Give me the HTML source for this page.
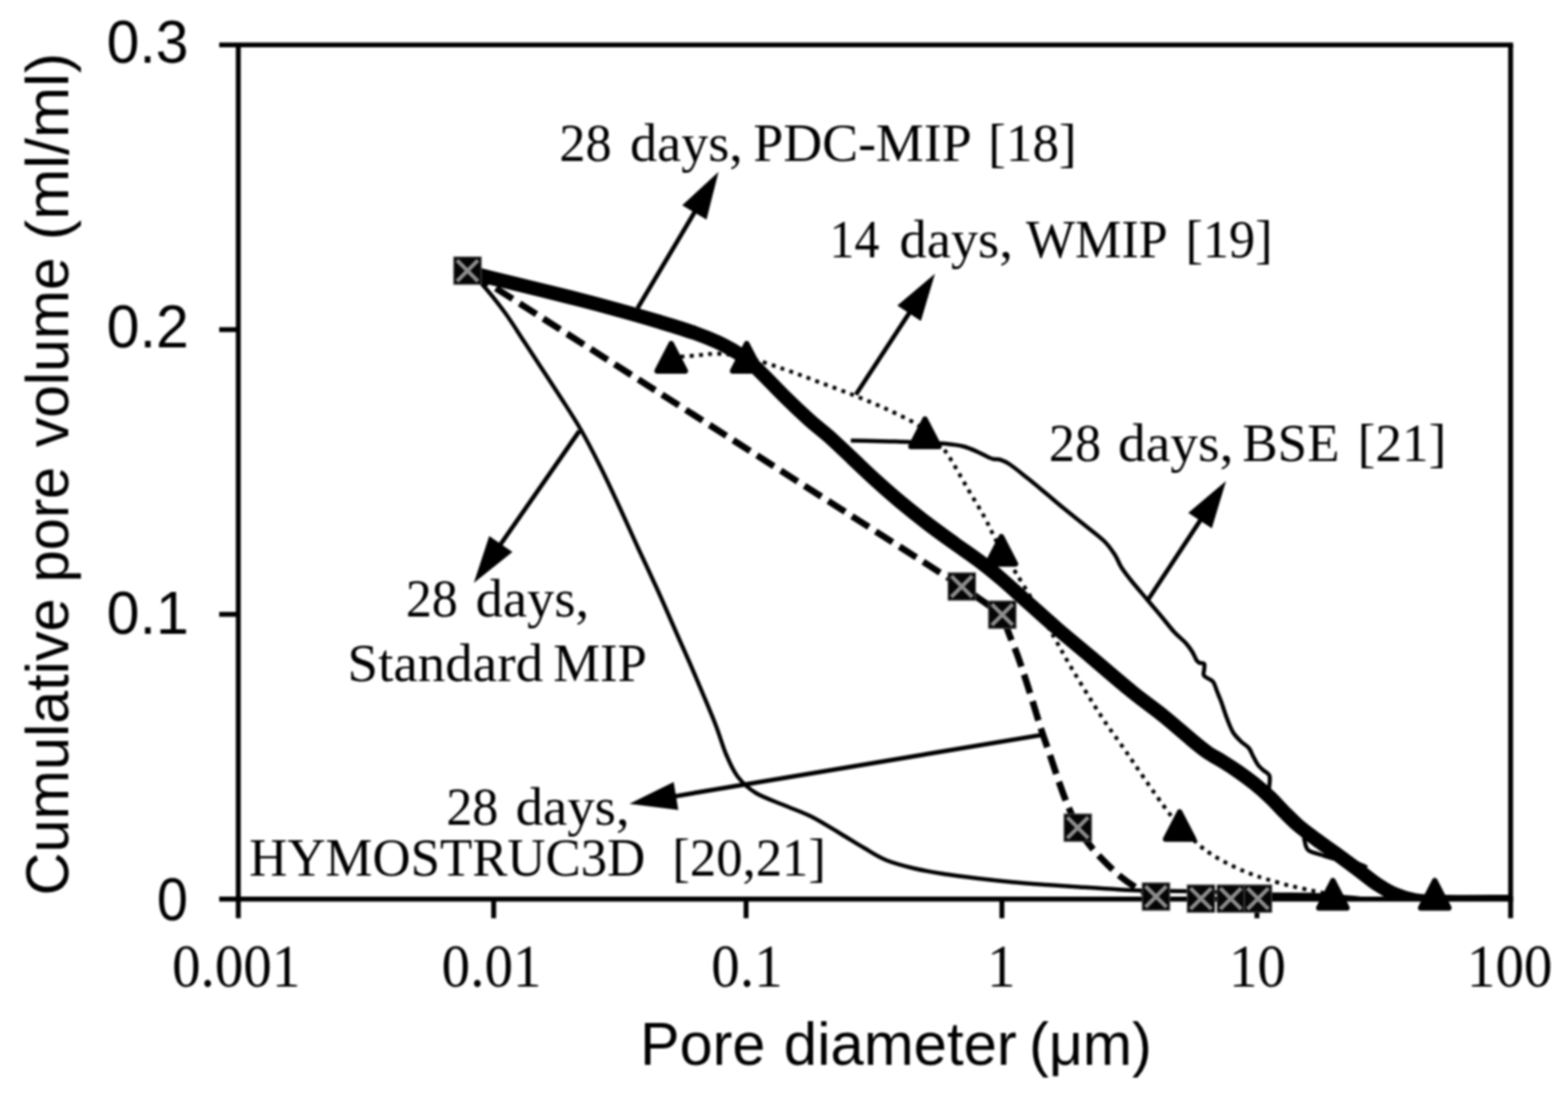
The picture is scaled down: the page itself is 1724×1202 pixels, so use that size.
<!DOCTYPE html>
<html lang="en">
<head>
<meta charset="utf-8">
<title>Cumulative pore volume vs pore diameter</title>
<style>
html,body{margin:0;padding:0;background:#fff;}
body{width:1724px;height:1202px;overflow:hidden;}
svg{display:block;filter:blur(0.9px);}
</style>
</head>
<body>
<svg width="1724" height="1202" viewBox="0 0 1724 1202">
<rect width="1724" height="1202" fill="#fff"/>
<g stroke="#000" stroke-width="5.4" fill="none" stroke-linecap="butt">
<path d="M241.0 49.4 H1663.6"/>
<path d="M241.0 988.8 H1663.6"/>
<path d="M262.0 49.4 V1009.8"/>
<path d="M1660.9 49.4 V1009.8"/>
<path d="M241.0 675.6 H262.0"/>
<path d="M241.0 362.5 H262.0"/>
<path d="M542.8 988.8 V1009.8"/>
<path d="M820.3 988.8 V1009.8"/>
<path d="M1101.6 988.8 V1009.8"/>
<path d="M1382.0 988.8 V1009.8"/>
</g>
<defs><clipPath id="plotclip"><rect x="262.0" y="49.4" width="1398.9" height="939.4"/></clipPath></defs>
<g fill="none" stroke="#000" stroke-linejoin="round">
<path d="M514.0 298.0 C516.7 300.4 523.1 304.8 530.0 312.5 C536.9 320.2 547.6 333.5 555.3 344.0 C563.0 354.5 569.2 364.9 576.2 375.5 C583.2 386.1 590.1 396.8 597.1 407.5 C604.1 418.2 611.0 428.6 618.0 439.5 C625.0 450.4 631.9 460.8 638.9 473.0 C645.9 485.2 652.8 498.6 659.7 512.5 C666.7 526.4 673.6 541.5 680.6 556.5 C687.6 571.5 694.5 587.3 701.5 602.5 C708.5 617.7 715.4 632.1 722.4 647.5 C729.4 662.9 736.4 679.4 743.3 695.0 C750.1 710.6 756.4 724.3 763.5 741.0 C770.6 757.7 780.2 780.2 786.0 795.0 C791.8 809.8 794.3 820.2 798.5 830.0 C802.7 839.8 805.6 847.0 811.0 854.0 C816.4 861.0 822.5 866.8 831.0 872.0 C839.5 877.2 851.8 881.2 862.0 885.5 C872.2 889.8 881.6 892.8 892.0 898.0 C902.4 903.2 914.8 911.2 924.5 917.0 C934.2 922.8 941.7 927.7 950.0 932.5 C958.3 937.3 965.3 942.2 974.5 946.0 C983.7 949.8 994.6 952.5 1005.0 955.0 C1015.4 957.5 1025.3 959.2 1037.0 961.0 C1048.7 962.8 1062.5 964.5 1075.0 966.0 C1087.5 967.5 1099.5 968.8 1112.0 970.0 C1124.5 971.2 1137.5 972.1 1150.0 973.0 C1162.5 973.9 1175.3 974.7 1187.0 975.5 C1198.7 976.3 1208.3 977.0 1220.0 977.6 C1231.7 978.2 1243.7 979.0 1257.0 979.4 C1270.3 979.8 1286.2 979.7 1300.0 980.0 C1313.8 980.3 1325.0 980.6 1340.0 981.2 C1355.0 981.8 1373.3 982.9 1390.0 983.4 C1406.7 983.9 1427.5 983.7 1440.0 984.0 C1452.5 984.3 1456.7 984.7 1465.0 985.3 C1473.3 985.9 1481.7 987.0 1490.0 987.5 C1498.3 988.0 1486.7 988.4 1515.0 988.6 C1543.3 988.8 1635.8 988.7 1660.0 988.8" stroke-width="4.5" clip-path="url(#plotclip)"/>
<path d="M935.5 484.5 C939.6 484.6 951.8 484.8 960.0 485.0 C968.2 485.2 975.5 485.2 985.0 485.5 C994.5 485.8 1007.8 486.6 1017.0 487.0 C1026.2 487.4 1032.9 487.3 1040.0 488.0 C1047.1 488.7 1053.7 489.5 1059.5 491.0 C1065.3 492.5 1070.4 495.0 1075.0 497.0 C1079.6 499.0 1084.0 501.7 1087.0 503.0 C1090.0 504.3 1090.9 504.6 1093.0 505.0 C1095.1 505.4 1096.7 504.6 1099.5 505.5 C1102.3 506.4 1104.9 507.1 1110.0 510.5 C1115.1 513.9 1123.3 520.7 1130.0 526.0 C1136.7 531.3 1143.5 537.1 1150.0 542.5 C1156.5 547.9 1162.0 552.8 1169.0 558.5 C1176.0 564.2 1184.5 570.9 1192.0 577.0 C1199.5 583.1 1208.3 589.4 1214.0 595.0 C1219.7 600.6 1222.8 605.7 1226.0 610.5 C1229.2 615.3 1229.8 619.1 1233.0 624.0 C1236.2 628.9 1240.3 634.2 1245.0 640.0 C1249.7 645.8 1255.7 652.7 1261.0 659.0 C1266.3 665.3 1272.0 672.0 1277.0 678.0 C1282.0 684.0 1286.5 690.1 1291.0 695.0 C1295.5 699.9 1300.7 703.8 1304.0 707.5 C1307.3 711.2 1309.1 713.9 1311.0 717.0 C1312.9 720.1 1314.2 724.0 1315.5 726.0 C1316.8 728.0 1317.6 728.3 1319.0 729.0 C1320.4 729.7 1323.2 728.8 1324.0 730.0 C1324.8 731.2 1324.1 733.9 1324.0 736.0 C1323.9 738.1 1322.8 740.8 1323.5 742.5 C1324.2 744.2 1326.2 744.8 1328.0 746.0 C1329.8 747.2 1332.3 747.7 1334.0 750.0 C1335.7 752.3 1336.5 756.2 1338.0 760.0 C1339.5 763.8 1341.2 767.5 1343.0 772.5 C1344.8 777.5 1346.9 784.6 1349.0 790.0 C1351.1 795.4 1353.0 800.8 1355.5 805.0 C1358.0 809.2 1361.1 812.1 1364.0 815.0 C1366.9 817.9 1370.7 819.7 1373.0 822.5 C1375.3 825.3 1376.3 828.9 1378.0 832.0 C1379.7 835.1 1381.2 838.5 1383.0 841.0 C1384.8 843.5 1386.9 845.1 1389.0 847.0 C1391.1 848.9 1394.3 850.3 1395.5 852.5 C1396.7 854.7 1396.0 857.2 1396.0 860.0 C1396.0 862.8 1394.8 866.0 1395.5 869.0 C1396.2 872.0 1393.9 870.8 1400.0 878.0 C1406.1 885.2 1426.3 904.6 1432.0 912.0 C1437.7 919.4 1433.3 919.3 1434.0 922.5 C1434.7 925.7 1435.0 928.8 1436.0 931.0 C1437.0 933.2 1436.8 934.3 1440.0 936.0 C1443.2 937.7 1450.8 939.6 1455.5 941.0 C1460.2 942.4 1463.6 943.5 1468.0 944.5 C1472.4 945.5 1478.0 946.2 1482.0 947.0 C1486.0 947.8 1488.5 948.3 1492.0 949.5 C1495.5 950.7 1501.2 953.2 1503.0 954.0" stroke-width="4.5"/>
<path d="M738.0 393.0 C742.5 392.7 756.3 391.7 765.0 391.0 C773.7 390.3 780.7 388.7 790.0 389.0 C799.3 389.3 809.0 390.2 821.0 393.0 C833.0 395.8 848.8 401.5 862.0 406.0 C875.2 410.5 887.1 415.2 900.0 420.0 C912.9 424.8 927.0 430.0 939.5 435.0 C952.0 440.0 963.8 444.8 975.0 450.0 C986.2 455.2 1000.0 461.7 1007.0 466.0 C1014.0 470.3 1011.8 471.2 1017.0 476.0 C1022.2 480.8 1030.7 484.8 1038.5 495.0 C1046.3 505.2 1056.8 525.3 1064.0 537.5 C1071.2 549.7 1077.2 559.2 1082.0 568.0 C1086.8 576.8 1089.8 583.8 1093.0 590.0 C1096.2 596.2 1097.0 598.3 1101.0 605.0 C1105.0 611.7 1111.0 620.3 1117.0 630.0 C1123.0 639.7 1130.1 651.3 1137.0 663.0 C1143.9 674.7 1152.0 688.7 1158.5 700.0 C1165.0 711.3 1169.9 720.6 1176.0 731.0 C1182.1 741.4 1188.5 752.0 1195.0 762.5 C1201.5 773.0 1208.0 783.6 1215.0 794.0 C1222.0 804.4 1229.6 814.3 1237.0 825.0 C1244.4 835.7 1251.7 846.8 1259.5 858.0 C1267.3 869.2 1277.8 884.3 1284.0 892.5 C1290.2 900.7 1291.3 900.9 1297.0 907.0 C1302.7 913.1 1311.5 923.2 1318.0 929.0 C1324.5 934.8 1329.8 938.1 1336.0 942.0 C1342.2 945.9 1349.0 949.3 1355.5 952.5 C1362.0 955.7 1368.8 958.6 1375.0 961.0 C1381.2 963.4 1385.8 964.8 1393.0 967.0 C1400.2 969.2 1409.7 971.9 1418.0 974.0 C1426.3 976.1 1435.7 977.9 1443.0 979.5 C1450.3 981.1 1458.8 982.8 1462.0 983.5" stroke-width="4.3" stroke-dasharray="4.3 5.9"/>
<path d="M514.0 297.0 L1057.5 645.0" stroke-width="7.2" stroke-dasharray="22 9" stroke-dashoffset="-6"/>
<path d="M1057.5 645 L1102 676" stroke-width="7.2"/>
<path d="M1102.0 676.0 C1103.3 679.6 1106.8 690.2 1109.6 697.5 C1112.3 704.8 1115.8 712.6 1118.5 720.0 C1121.2 727.4 1123.4 734.2 1126.0 742.0 C1128.6 749.8 1130.9 757.2 1134.0 767.0 C1137.1 776.8 1141.1 790.7 1144.4 801.0 C1147.7 811.3 1150.9 819.8 1154.0 829.0 C1157.1 838.2 1159.9 847.2 1163.0 856.0 C1166.1 864.8 1168.8 873.0 1172.5 882.0 C1176.2 891.0 1180.9 902.3 1185.0 910.0 C1189.1 917.7 1192.5 922.2 1197.0 928.0 C1201.5 933.8 1206.3 939.1 1212.0 945.0 C1217.7 950.9 1224.7 958.0 1231.4 963.5 C1238.1 969.0 1245.6 974.1 1252.0 978.0 C1258.4 981.9 1267.0 985.5 1270.0 987.0" stroke-width="7.2" stroke-dasharray="22 9" stroke-dashoffset="-8"/>
<path d="M516.0 299.5 C522.7 301.2 542.5 306.2 556.0 309.5 C569.5 312.8 583.2 316.1 597.0 319.5 C610.8 322.9 625.0 326.4 639.0 330.0 C653.0 333.6 667.2 337.4 681.0 341.2 C694.8 345.0 708.2 348.8 722.0 353.0 C735.8 357.2 752.8 362.3 764.0 366.2 C775.2 370.1 782.0 373.1 789.0 376.3 C796.0 379.5 800.7 382.2 806.0 385.3 C811.3 388.4 815.3 390.4 821.0 395.0 C826.7 399.6 833.2 406.2 840.0 413.0 C846.8 419.8 853.7 427.3 862.0 435.5 C870.3 443.7 881.7 454.5 890.0 462.0 C898.3 469.5 904.2 473.5 912.0 480.5 C919.8 487.5 928.7 496.2 937.0 504.0 C945.3 511.8 953.2 519.5 962.0 527.5 C970.8 535.5 980.3 543.9 990.0 552.0 C999.7 560.1 1010.0 568.3 1020.0 576.0 C1030.0 583.7 1040.0 590.8 1050.0 598.0 C1060.0 605.2 1071.3 612.9 1080.0 619.5 C1088.7 626.1 1093.7 630.3 1102.0 637.5 C1110.3 644.7 1120.0 653.6 1130.0 662.5 C1140.0 671.4 1150.3 680.9 1162.0 691.0 C1173.7 701.1 1186.2 711.3 1200.0 723.0 C1213.8 734.7 1231.7 750.2 1245.0 761.0 C1258.3 771.8 1269.2 779.2 1280.0 788.0 C1290.8 796.8 1302.2 807.0 1310.0 813.5 C1317.8 820.0 1321.3 823.0 1327.0 827.0 C1332.7 831.0 1338.6 833.9 1344.4 837.5 C1350.2 841.1 1356.0 844.8 1361.8 848.8 C1367.6 852.8 1373.4 857.1 1379.2 861.8 C1385.0 866.5 1391.3 872.0 1396.6 877.0 C1401.9 882.0 1405.9 886.9 1411.0 892.0 C1416.1 897.1 1421.0 902.3 1427.0 907.5 C1433.0 912.7 1440.2 917.9 1447.0 923.0 C1453.8 928.1 1460.0 932.2 1468.0 938.0 C1476.0 943.8 1487.2 952.2 1495.0 958.0 C1502.8 963.8 1508.3 968.7 1515.0 973.0 C1521.7 977.3 1528.3 981.2 1535.0 984.0 C1541.7 986.8 1547.5 988.7 1555.0 990.0 C1562.5 991.3 1562.5 991.5 1580.0 991.8 C1597.5 992.1 1646.7 991.8 1660.0 991.8" stroke-width="15.5" clip-path="url(#plotclip)"/>
</g>
<line x1="701.0" y1="339.0" x2="764.5" y2="232.0" stroke="#000" stroke-width="4.9"/><polygon points="790.0,189.0 776.8,241.6 750.1,225.8" fill="#000"/>
<line x1="941.0" y1="434.0" x2="1000.6" y2="342.8" stroke="#000" stroke-width="4.9"/><polygon points="1028.0,301.0 1012.5,353.0 986.6,336.0" fill="#000"/>
<line x1="1262.0" y1="660.0" x2="1320.6" y2="570.8" stroke="#000" stroke-width="4.9"/><polygon points="1348.0,529.0 1332.4,581.0 1306.5,564.0" fill="#000"/>
<line x1="637.0" y1="474.0" x2="549.5" y2="599.9" stroke="#000" stroke-width="4.9"/><polygon points="521.0,641.0 537.9,589.4 563.4,607.1" fill="#000"/>
<line x1="1144.5" y1="808.3" x2="741.3" y2="875.8" stroke="#000" stroke-width="4.9"/><polygon points="692.0,884.0 740.7,860.1 745.8,890.7" fill="#000"/>
<polygon points="738.0,378.0 753.5,408.0 722.5,408.0" fill="#000" stroke="#000" stroke-width="6" stroke-linejoin="round"/>
<polygon points="821.0,378.0 836.5,408.0 805.5,408.0" fill="#000" stroke="#000" stroke-width="6" stroke-linejoin="round"/>
<polygon points="1017.0,461.0 1032.5,491.0 1001.5,491.0" fill="#000" stroke="#000" stroke-width="6" stroke-linejoin="round"/>
<polygon points="1101.0,590.2 1116.5,620.2 1085.5,620.2" fill="#000" stroke="#000" stroke-width="6" stroke-linejoin="round"/>
<polygon points="1297.0,892.8 1312.5,922.8 1281.5,922.8" fill="#000" stroke="#000" stroke-width="6" stroke-linejoin="round"/>
<polygon points="1465.5,968.5 1481.0,998.5 1450.0,998.5" fill="#000" stroke="#000" stroke-width="6" stroke-linejoin="round"/>
<polygon points="1577.5,968.5 1593.0,998.5 1562.0,998.5" fill="#000" stroke="#000" stroke-width="6" stroke-linejoin="round"/>
<g transform="translate(514.0 297.7)"><rect x="-15.0" y="-15.0" width="30" height="30" fill="#050505" stroke="#484848" stroke-width="1.2"/><path d="M-11.5 -11.5 L11.5 11.5 M11.5 -11.5 L-11.5 11.5" stroke="#8c8c8c" stroke-width="4.3" fill="none"/></g>
<g transform="translate(1057.5 645.0)"><rect x="-15.0" y="-15.0" width="30" height="30" fill="#050505" stroke="#484848" stroke-width="1.2"/><path d="M-11.5 -11.5 L11.5 11.5 M11.5 -11.5 L-11.5 11.5" stroke="#8c8c8c" stroke-width="4.3" fill="none"/></g>
<g transform="translate(1102.0 676.0)"><rect x="-15.0" y="-15.0" width="30" height="30" fill="#050505" stroke="#484848" stroke-width="1.2"/><path d="M-11.5 -11.5 L11.5 11.5 M11.5 -11.5 L-11.5 11.5" stroke="#8c8c8c" stroke-width="4.3" fill="none"/></g>
<g transform="translate(1185.0 910.2)"><rect x="-15.0" y="-15.0" width="30" height="30" fill="#050505" stroke="#484848" stroke-width="1.2"/><path d="M-11.5 -11.5 L11.5 11.5 M11.5 -11.5 L-11.5 11.5" stroke="#8c8c8c" stroke-width="4.3" fill="none"/></g>
<g transform="translate(1271.0 986.0)"><rect x="-15.0" y="-15.0" width="30" height="30" fill="#050505" stroke="#484848" stroke-width="1.2"/><path d="M-11.5 -11.5 L11.5 11.5 M11.5 -11.5 L-11.5 11.5" stroke="#8c8c8c" stroke-width="4.3" fill="none"/></g>
<g transform="translate(1320.4 988.2)"><rect x="-15.0" y="-15.0" width="30" height="30" fill="#050505" stroke="#484848" stroke-width="1.2"/><path d="M-11.5 -11.5 L11.5 11.5 M11.5 -11.5 L-11.5 11.5" stroke="#8c8c8c" stroke-width="4.3" fill="none"/></g>
<g transform="translate(1353.2 988.2)"><rect x="-15.0" y="-15.0" width="30" height="30" fill="#050505" stroke="#484848" stroke-width="1.2"/><path d="M-11.5 -11.5 L11.5 11.5 M11.5 -11.5 L-11.5 11.5" stroke="#8c8c8c" stroke-width="4.3" fill="none"/></g>
<g transform="translate(1383.1 988.2)"><rect x="-15.0" y="-15.0" width="30" height="30" fill="#050505" stroke="#484848" stroke-width="1.2"/><path d="M-11.5 -11.5 L11.5 11.5 M11.5 -11.5 L-11.5 11.5" stroke="#8c8c8c" stroke-width="4.3" fill="none"/></g>
<text transform="translate(0 69.30) scale(1 1.0000)" font-family="'Liberation Sans', Arial, Helvetica, sans-serif" font-size="66" fill="#000"><tspan x="117.35" textLength="89.99" lengthAdjust="spacingAndGlyphs">0.3</tspan></text>
<text transform="translate(0 381.50) scale(1 1.0000)" font-family="'Liberation Sans', Arial, Helvetica, sans-serif" font-size="66" fill="#000"><tspan x="117.34" textLength="90.26" lengthAdjust="spacingAndGlyphs">0.2</tspan></text>
<text transform="translate(0 696.50) scale(1 1.0000)" font-family="'Liberation Sans', Arial, Helvetica, sans-serif" font-size="66" fill="#000"><tspan x="117.34" textLength="90.26" lengthAdjust="spacingAndGlyphs">0.1</tspan></text>
<text transform="translate(0 1011.80) scale(1 1.0000)" font-family="'Liberation Sans', Arial, Helvetica, sans-serif" font-size="66" fill="#000"><tspan x="172.58" textLength="34.12" lengthAdjust="spacingAndGlyphs">0</tspan></text>
<text transform="translate(0 1084.60) scale(1 1.0200)" font-family="'Liberation Serif', 'Times New Roman', Times, serif" font-size="66" fill="#000"><tspan x="189.22" textLength="141.07" lengthAdjust="spacingAndGlyphs">0.001</tspan></text>
<text transform="translate(0 1084.60) scale(1 1.0200)" font-family="'Liberation Serif', 'Times New Roman', Times, serif" font-size="66" fill="#000"><tspan x="485.62" textLength="109.72" lengthAdjust="spacingAndGlyphs">0.01</tspan></text>
<text transform="translate(0 1084.60) scale(1 1.0200)" font-family="'Liberation Serif', 'Times New Roman', Times, serif" font-size="66" fill="#000"><tspan x="782.12" textLength="78.38" lengthAdjust="spacingAndGlyphs">0.1</tspan></text>
<text transform="translate(0 1084.60) scale(1 1.0200)" font-family="'Liberation Serif', 'Times New Roman', Times, serif" font-size="66" fill="#000"><tspan x="1085.37" textLength="31.35" lengthAdjust="spacingAndGlyphs">1</tspan></text>
<text transform="translate(0 1084.60) scale(1 1.0200)" font-family="'Liberation Serif', 'Times New Roman', Times, serif" font-size="66" fill="#000"><tspan x="1351.17" textLength="62.70" lengthAdjust="spacingAndGlyphs">10</tspan></text>
<text transform="translate(0 1084.60) scale(1 1.0200)" font-family="'Liberation Serif', 'Times New Roman', Times, serif" font-size="66" fill="#000"><tspan x="1612.83" textLength="94.05" lengthAdjust="spacingAndGlyphs">100</tspan></text>
<text transform="translate(0 1171.00) scale(1 1.0200)" font-family="'Liberation Sans', Arial, Helvetica, sans-serif" font-size="66" fill="#000"><tspan x="703.87" textLength="137.61" lengthAdjust="spacingAndGlyphs">Pore</tspan> <tspan x="861.76" textLength="256.27" lengthAdjust="spacingAndGlyphs">diameter</tspan> <tspan x="1131.56" textLength="134.84" lengthAdjust="spacingAndGlyphs">(μm)</tspan></text>
<text transform="translate(75.00 0) rotate(-90)" font-family="'Liberation Sans', Arial, Helvetica, sans-serif" font-size="66" fill="#000"><tspan x="-984.71" textLength="326.57" lengthAdjust="spacingAndGlyphs">Cumulative</tspan> <tspan x="-640.60" textLength="127.35" lengthAdjust="spacingAndGlyphs">pore</tspan> <tspan x="-491.75" textLength="208.70" lengthAdjust="spacingAndGlyphs">volume</tspan> <tspan x="-264.34" textLength="206.27" lengthAdjust="spacingAndGlyphs">(ml/ml)</tspan></text>
<text transform="translate(0 176.80) scale(1 1.0000)" font-family="'Liberation Serif', 'Times New Roman', Times, serif" font-size="59" fill="#000"><tspan x="615.07" textLength="57.42" lengthAdjust="spacingAndGlyphs">28</tspan> <tspan x="692.73" textLength="123.96" lengthAdjust="spacingAndGlyphs">days,</tspan> <tspan x="828.25" textLength="237.89" lengthAdjust="spacingAndGlyphs">PDC-MIP</tspan> <tspan x="1086.55" textLength="97.20" lengthAdjust="spacingAndGlyphs">[18]</tspan></text>
<text transform="translate(0 282.70) scale(1 1.0000)" font-family="'Liberation Serif', 'Times New Roman', Times, serif" font-size="59" fill="#000"><tspan x="912.06" textLength="54.87" lengthAdjust="spacingAndGlyphs">14</tspan> <tspan x="989.02" textLength="124.59" lengthAdjust="spacingAndGlyphs">days,</tspan> <tspan x="1128.00" textLength="153.76" lengthAdjust="spacingAndGlyphs">WMIP</tspan> <tspan x="1303.41" textLength="95.88" lengthAdjust="spacingAndGlyphs">[19]</tspan></text>
<text transform="translate(0 506.60) scale(1 1.0000)" font-family="'Liberation Serif', 'Times New Roman', Times, serif" font-size="59" fill="#000"><tspan x="1153.27" textLength="57.31" lengthAdjust="spacingAndGlyphs">28</tspan> <tspan x="1229.38" textLength="126.79" lengthAdjust="spacingAndGlyphs">days,</tspan> <tspan x="1366.08" textLength="106.65" lengthAdjust="spacingAndGlyphs">BSE</tspan> <tspan x="1492.74" textLength="97.42" lengthAdjust="spacingAndGlyphs">[21]</tspan></text>
<text transform="translate(0 677.90) scale(1 1.0000)" font-family="'Liberation Serif', 'Times New Roman', Times, serif" font-size="59" fill="#000"><tspan x="446.28" textLength="57.21" lengthAdjust="spacingAndGlyphs">28</tspan> <tspan x="523.02" textLength="124.69" lengthAdjust="spacingAndGlyphs">days,</tspan></text>
<text transform="translate(0 749.00) scale(1 1.0000)" font-family="'Liberation Serif', 'Times New Roman', Times, serif" font-size="59" fill="#000"><tspan x="382.00" textLength="215.16" lengthAdjust="spacingAndGlyphs">Standard</tspan> <tspan x="608.28" textLength="103.00" lengthAdjust="spacingAndGlyphs">MIP</tspan></text>
<text transform="translate(0 907.40) scale(1 1.0000)" font-family="'Liberation Serif', 'Times New Roman', Times, serif" font-size="59" fill="#000"><tspan x="490.67" textLength="57.31" lengthAdjust="spacingAndGlyphs">28</tspan> <tspan x="566.90" textLength="125.43" lengthAdjust="spacingAndGlyphs">days,</tspan></text>
<text transform="translate(0 962.60) scale(1 1.0000)" font-family="'Liberation Serif', 'Times New Roman', Times, serif" font-size="59" fill="#000"><tspan x="273.98" textLength="435.50" lengthAdjust="spacingAndGlyphs">HYMOSTRUC3D</tspan> <tspan x="739.28" textLength="168.83" lengthAdjust="spacingAndGlyphs">[20,21]</tspan></text>
</svg>
</body>
</html>
